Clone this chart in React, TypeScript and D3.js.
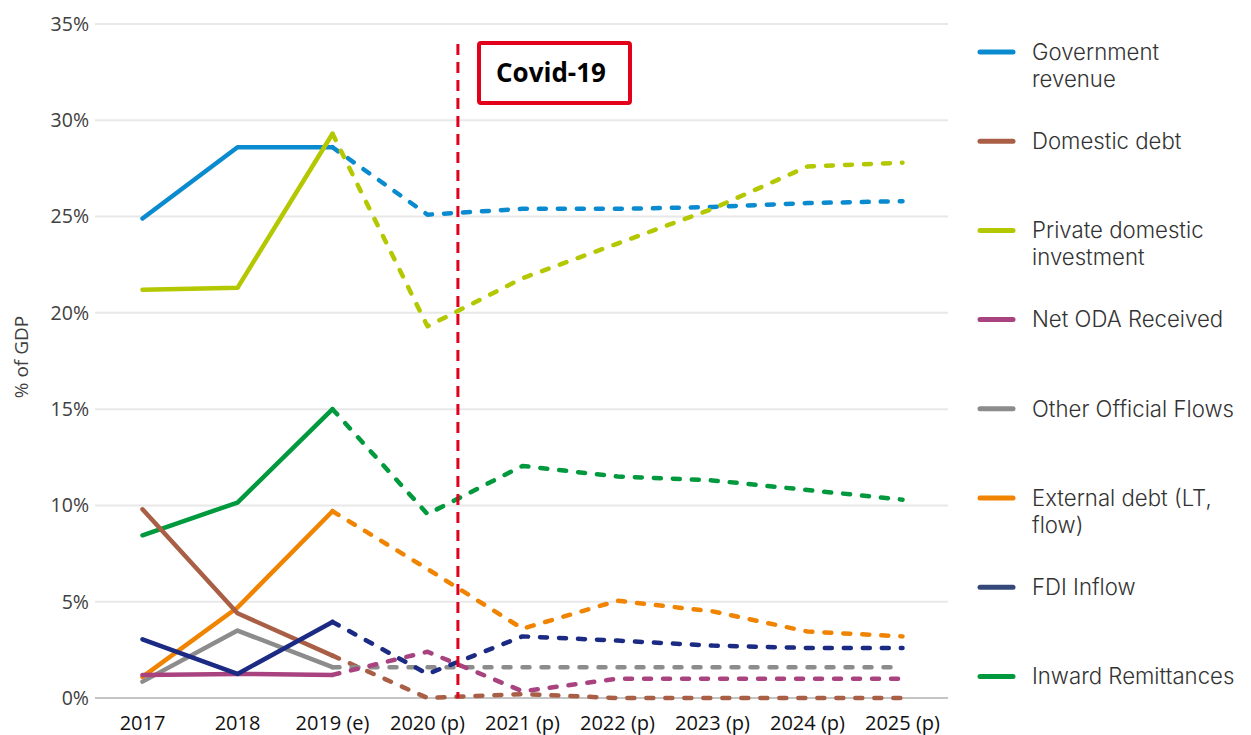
import React, { useEffect, useRef } from 'react';
import * as d3 from 'd3';

// Years on the x axis (actuals, estimate, projections)
const years = ['2017', '2018', '2019 (e)', '2020 (p)', '2021 (p)', '2022 (p)', '2023 (p)', '2024 (p)', '2025 (p)'];

// Values in % of GDP
const governmentRevenue = [24.9, 28.6, 28.6, 25.1, 25.4, 25.4, 25.5, 25.7, 25.8];
const domesticDebt = [9.8, 4.4, 2.2, 0.0, 0.2, 0.0, 0.0, 0.0, 0.0];
const privateInvestment = [21.2, 21.3, 29.3, 19.3, 21.8, 23.6, 25.4, 27.6, 27.8];
const netOda = [1.2, 1.25, 1.2, 2.4, 0.35, 1.0, 1.0, 1.0, 1.0];
const otherOfficialFlows = [0.85, 3.5, 1.6, 1.6, 1.6, 1.6, 1.6, 1.6, 1.6];
const externalDebt = [1.1, 4.7, 9.7, 6.7, 3.6, 5.05, 4.5, 3.45, 3.2];
const fdiInflow = [3.05, 1.25, 3.95, 1.25, 3.2, 2.98, 2.72, 2.6, 2.6];
const inwardRemittances = [8.45, 10.15, 15.0, 9.55, 12.05, 11.5, 11.3, 10.8, 10.3];

const yTicks = [0, 5, 10, 15, 20, 25, 30, 35];

// index of the last actual year; lines are dashed from here on
const lastActual = 2;

const series = [
  { name: ['Government', 'revenue'], values: governmentRevenue, color: '#0a8acf', legendColor: '#0a8acf' },
  { name: ['Domestic debt'], values: domesticDebt, color: '#a95f46', legendColor: '#a95f46' },
  { name: ['Private domestic', 'investment'], values: privateInvestment, color: '#b3c800', legendColor: '#b3c800' },
  { name: ['Net ODA Received'], values: netOda, color: '#a8437f', legendColor: '#a8437f' },
  { name: ['Other Official Flows'], values: otherOfficialFlows, color: '#8c8c8c', legendColor: '#8c8c8c' },
  { name: ['External debt (LT,', 'flow)'], values: externalDebt, color: '#f08400', legendColor: '#f08400' },
  { name: ['FDI Inflow'], values: fdiInflow, color: '#1b2a82', legendColor: '#34497a' },
  { name: ['Inward Remittances'], values: inwardRemittances, color: '#00993d', legendColor: '#00993d' },
];

// drawing order: lower series on top like the original
const drawOrder = [0, 2, 7, 5, 1, 4, 3, 6];

function App() {
  const svgRef = useRef<SVGSVGElement>(null);

  useEffect(() => {
    const svg = d3.select(svgRef.current);
    svg.selectAll('*').remove();

    const font = "'Open Sans', 'Noto Sans', sans-serif";
    const legendFont = "Inter, 'Open Sans', sans-serif";
    const x = d3.scaleBand().domain(years).range([95, 950]);
    const y = d3.scaleLinear().domain([0, 35]).range([698, 24]);
    const cx = (i: number) => (x(years[i]) as number) + x.bandwidth() / 2;

    // gridlines
    svg.append('g')
      .selectAll('line')
      .data(yTicks)
      .enter()
      .append('line')
      .attr('x1', 95)
      .attr('x2', 948)
      .attr('y1', d => y(d))
      .attr('y2', d => y(d))
      .attr('stroke', d => (d === 0 ? '#c4c4c4' : '#e8e8e8'))
      .attr('stroke-width', 2);

    // y tick labels
    svg.append('g')
      .selectAll('text')
      .data(yTicks)
      .enter()
      .append('text')
      .attr('x', 89)
      .attr('y', d => y(d))
      .attr('dy', '0.35em')
      .attr('text-anchor', 'end')
      .attr('font-family', font)
      .attr('font-size', 19.5)
      .attr('fill', '#404040')
      .text(d => `${d}%`);

    // y axis title
    svg.append('text')
      .attr('transform', `translate(28, 357) rotate(-90)`)
      .attr('text-anchor', 'middle')
      .attr('font-family', font)
      .attr('font-size', 19)
      .attr('fill', '#404040')
      .text('% of GDP');

    // x labels
    svg.append('g')
      .selectAll('text')
      .data(years)
      .enter()
      .append('text')
      .attr('x', (d, i) => cx(i))
      .attr('y', 730)
      .attr('text-anchor', 'middle')
      .attr('font-family', font)
      .attr('font-size', 20)
      .attr('fill', '#111')
      .text(d => d);

    const path = d3.line<[number, number]>();

    drawOrder.forEach(si => {
      const s = series[si];
      const pts: [number, number][] = s.values.map((v, i) => [cx(i), y(v)]);
      // dashed projection
      svg.append('path')
        .attr('d', path(pts.slice(lastActual)))
        .attr('fill', 'none')
        .attr('stroke', s.color)
        .attr('stroke-width', 4.5)
        .attr('stroke-linecap', 'round')
        .attr('stroke-linejoin', 'round')
        .attr('stroke-dasharray', '7 12');
      // solid actuals
      svg.append('path')
        .attr('d', path(pts.slice(0, lastActual + 1)))
        .attr('fill', 'none')
        .attr('stroke', s.color)
        .attr('stroke-width', 4.5)
        .attr('stroke-linecap', 'round')
        .attr('stroke-linejoin', 'round');
    });

    // Covid-19 marker, a third of the way from 2020 to 2021
    const covidX = cx(3) + (cx(4) - cx(3)) * 0.32;
    svg.append('line')
      .attr('x1', covidX)
      .attr('x2', covidX)
      .attr('y1', 44)
      .attr('y2', 698)
      .attr('stroke', '#e2001a')
      .attr('stroke-width', 3)
      .attr('stroke-dasharray', '11 7');

    svg.append('rect')
      .attr('x', 479)
      .attr('y', 43)
      .attr('width', 151)
      .attr('height', 60)
      .attr('rx', 2)
      .attr('fill', '#fff')
      .attr('stroke', '#e2001a')
      .attr('stroke-width', 4);

    svg.append('text')
      .attr('x', 551)
      .attr('y', 73)
      .attr('dy', '0.35em')
      .attr('text-anchor', 'middle')
      .attr('font-family', font)
      .attr('font-size', 26)
      .attr('font-weight', 'bold')
      .attr('fill', '#000')
      .text('Covid-19');

    // legend
    const legend = svg.append('g');
    const items = legend.selectAll('g')
      .data(series)
      .enter()
      .append('g')
      .attr('transform', (d, i) => `translate(978, ${52 + i * 89.2})`);

    items.append('line')
      .attr('x1', 2)
      .attr('x2', 35)
      .attr('stroke', d => d.legendColor)
      .attr('stroke-width', 5)
      .attr('stroke-linecap', 'round');

    items.append('text')
      .attr('x', 54)
      .attr('font-family', legendFont)
      .attr('font-size', 22.2)
      .attr('font-weight', 300)
      .attr('fill', '#333')
      .selectAll('tspan')
      .data(d => d.name)
      .enter()
      .append('tspan')
      .attr('x', 54)
      .attr('y', (d, i) => i * 27)
      .attr('dy', '0.35em')
      .text(d => d);
  }, []);

  return (
    <svg
      ref={svgRef}
      width={1251}
      height={735}
      style={{ position: 'absolute', left: 0, top: 0, background: '#fff' }}
    />
  );
}

export default App;
